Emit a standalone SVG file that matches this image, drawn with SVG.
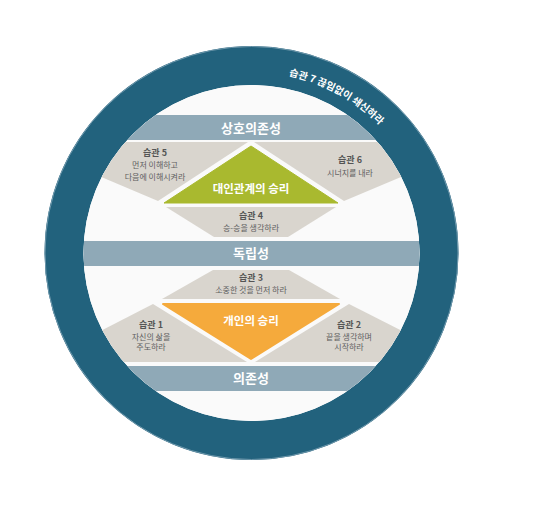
<svg xmlns="http://www.w3.org/2000/svg" width="542" height="509" viewBox="0 0 542 509">
<style>
text{font-family:"Noto Sans CJK KR","Noto Sans",sans-serif;text-anchor:middle}
.band{fill:#8fa9b7}
.bandt{fill:#ffffff;font-size:13px;font-weight:bold}
.gray{fill:#d9d5ce}
.ttl{fill:#555555;font-size:9px;font-weight:bold}
.dsc{fill:#5e5e5e;font-size:8px}
.win{fill:#ffffff;font-size:11.5px;font-weight:bold}
</style>
<defs>
<clipPath id="inner"><circle cx="251.5" cy="253" r="168"/></clipPath>
<path id="arc" d="M 251.5,72 A 181 181 0 0 1 432.5,253"/>
</defs>
<rect width="542" height="509" fill="#ffffff"/>
<g id="ring">
<circle cx="251.5" cy="253" r="187.5" fill="none" stroke="#22627d" stroke-width="39"/>
<circle cx="251.5" cy="253" r="206.5" fill="none" stroke="#6f98ac" stroke-width="1"/>
<circle cx="251.5" cy="253" r="168" fill="#fafafa"/>
<text font-size="10" font-weight="bold" fill="#ffffff"><textPath href="#arc" startOffset="90">습관 7 끊임없이 쇄신하라</textPath></text>
</g>
<g clip-path="url(#inner)">
<g id="band-interdependence"><rect class="band" x="40" y="115" width="430" height="25"/></g>
<g id="band-independence"><rect class="band" x="40" y="241" width="430" height="25"/></g>
<g id="band-dependence"><rect class="band" x="40" y="366" width="430" height="25"/></g>
<g id="habit5"><polygon class="gray" points="40,142 248,142 158,201 40,151"/></g>
<g id="habit6"><polygon class="gray" points="463,142 254,142 344,201 463,151"/></g>
<g id="habit1"><polygon class="gray" points="153,304 247,362 40,362"/></g>
<g id="habit2"><polygon class="gray" points="349,304 255,362 463,362"/></g>
</g>
<text class="bandt" x="251" y="132.5">상호의존성</text>
<text class="bandt" x="251" y="258">독립성</text>
<text class="bandt" x="251" y="383">의존성</text>
<g id="habit4"><polygon class="gray" points="166,207 336,207 288,237 214,237"/>
<text class="ttl" x="251" y="218.5">습관 4</text><text class="dsc" x="251" y="230.5">승-승을 생각하라</text></g>
<g id="habit3"><polygon class="gray" points="213,270 289,270 340,299 162,299"/>
<text class="ttl" x="251" y="280.5">습관 3</text><text class="dsc" x="251" y="292.5">소중한 것을 먼저 하라</text></g>
<g id="public-victory"><polygon points="251,146 164,203 338,203" fill="#a9b92f" stroke="#a9b92f" stroke-width="1" stroke-linejoin="round"/>
<text class="win" x="251" y="193">대인관계의 승리</text></g>
<g id="private-victory"><polygon points="163,304 339,304 251,359" fill="#f5aa3c" stroke="#f5aa3c" stroke-width="2" stroke-linejoin="round"/>
<text class="win" x="251" y="325">개인의 승리</text></g>
<g id="habit5-text"><text class="ttl" x="155" y="155.5">습관 5</text><text class="dsc" x="155" y="168">먼저 이해하고</text><text class="dsc" x="155" y="180">다음에 이해시켜라</text></g>
<g id="habit6-text"><text class="ttl" x="350" y="163">습관 6</text><text class="dsc" x="350" y="175.5">시너지를 내라</text></g>
<g id="habit1-text"><text class="ttl" x="151" y="327.5">습관 1</text><text class="dsc" x="151" y="339.5">자신의 삶을</text><text class="dsc" x="151" y="350">주도하라</text></g>
<g id="habit2-text"><text class="ttl" x="349" y="327.5">습관 2</text><text class="dsc" x="349" y="339.5">끝을 생각하며</text><text class="dsc" x="349" y="350">시작하라</text></g>
<g id="connectors"/>
</svg>
